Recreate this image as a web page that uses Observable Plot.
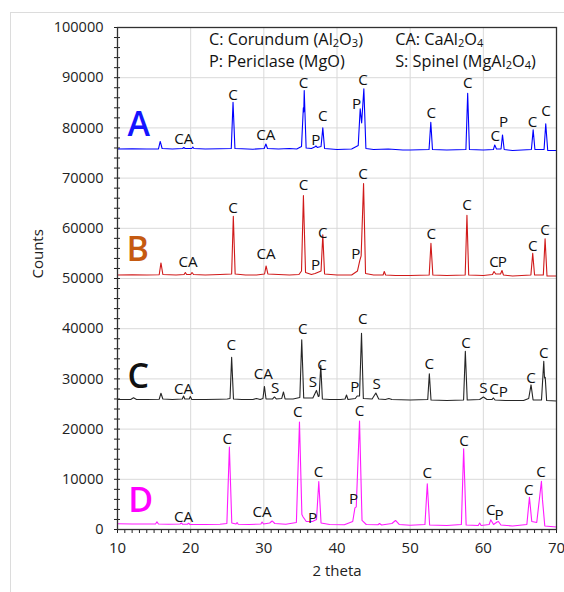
<!DOCTYPE html>
<html><head><meta charset="utf-8">
<script src="https://cdn.jsdelivr.net/npm/d3@7"></script>
<script src="https://cdn.jsdelivr.net/npm/@observablehq/plot@0.6"></script>
<style>
body{margin:0;background:#fff;}
#wrap{position:relative;width:564px;height:592px;overflow:hidden;}
#border{position:absolute;left:10px;top:12px;right:-2px;bottom:-2px;border-left:1px solid #dcdcdc;border-top:1px solid #dcdcdc;pointer-events:none;}
#wrap svg{position:absolute;left:0;top:0;}
</style></head><body><div id="wrap"><div id="border"></div></div>
<script>
// 2 theta / counts points
const traceA = [[10,75800],[12,75850],[14,75800],[15.6,75800],[15.84,77300],[16.1,75900],[17.5,75800],[18.9,75900],[19.06,76100],[19.25,75900],[20.15,75900],[20.29,76200],[20.45,75900],[22,75800],[24,75850],[25.55,75900],[25.79,85100],[26.05,75900],[27,75850],[28.5,75750],[30.05,75900],[30.28,76800],[30.5,75900],[32,75800],[33.5,75900],[34.5,75800],[35.15,76300],[35.4,84000],[35.46,83200],[35.52,87450],[35.78,76000],[36.5,75900],[36.95,76200],[37.12,76400],[37.3,76100],[37.82,76300],[38.06,80000],[38.3,75900],[40,75700],[42,75800],[42.9,76500],[43.17,83800],[43.37,81000],[43.67,87800],[43.95,75900],[45,75700],[47,75800],[49,75600],[50,75600],[52.58,75700],[52.82,81100],[53.05,75700],[55,75600],[57.62,75700],[57.86,86900],[58.1,75700],[60,75600],[61.38,75700],[61.56,76600],[61.8,75800],[62.42,75800],[62.62,78600],[62.85,75700],[64,75500],[66.57,75700],[66.81,79600],[67.05,75700],[68.3,75700],[68.53,80800],[68.8,75500],[70,75500]];
const traceB = [[10,50700],[12,50750],[14,50700],[15.7,50750],[15.94,53100],[16.2,50800],[18,50700],[19.1,50800],[19.27,51200],[19.45,50800],[20.0,50800],[20.18,51200],[20.4,50800],[22,50700],[24,50800],[25.6,50900],[25.83,62400],[26.08,50900],[27.5,50700],[29,50700],[30.1,50900],[30.31,52500],[30.55,50900],[32,50800],[33.5,50700],[34.8,50800],[35.15,51500],[35.41,66500],[35.7,51200],[36.5,50800],[37.0,51000],[37.5,51300],[37.82,51500],[38.06,58700],[38.3,50900],[40,50700],[42,50700],[42.8,51500],[43.12,53600],[43.3,54500],[43.63,68900],[43.9,51000],[45,50700],[46.3,50700],[46.46,51400],[46.65,50700],[48,50600],[50,50600],[52.6,50700],[52.84,57000],[53.1,50700],[55,50600],[57.52,50700],[57.76,62600],[58.0,50700],[60,50600],[61.25,50800],[61.46,51400],[61.7,50900],[62.35,50900],[62.55,51600],[62.75,50700],[64,50500],[66.5,50700],[66.75,55000],[67.0,50700],[68.2,50700],[68.44,57900],[68.7,50500],[70,50500]];
const traceC = [[10,25900],[11.8,25900],[12.19,26230],[12.6,25900],[14,25900],[15.7,25950],[15.94,27150],[16.2,26000],[17.5,25900],[18.85,26000],[19.03,26600],[19.2,26000],[19.8,26000],[19.95,26500],[20.15,25900],[22,25900],[24,25950],[25.0,26000],[25.38,26100],[25.6,34300],[25.85,26000],[27,25900],[28.5,25900],[29.0,26100],[29.5,25900],[29.88,26100],[30.08,28500],[30.3,26000],[31.2,26000],[31.45,26400],[31.7,26000],[32.45,26100],[32.68,27400],[32.9,26000],[34,26000],[34.92,26300],[35.18,37800],[35.45,26200],[36.7,26200],[37.19,27700],[37.45,26500],[37.56,26600],[37.78,32700],[38.0,26000],[39,25900],[40.5,25900],[41.1,26000],[41.3,26800],[41.5,25900],[42.5,26100],[42.76,26600],[43.08,26600],[43.35,39100],[43.6,26100],[44.8,26000],[45.31,27200],[45.7,26000],[46.6,25900],[47.09,26100],[47.5,25900],[50,25800],[52.4,25900],[52.62,31000],[52.85,25800],[55,25700],[57.3,25800],[57.54,35500],[57.8,25800],[59.5,25900],[60.01,26400],[60.5,25900],[61.2,25900],[61.38,26200],[61.6,25800],[63,25700],[65.5,25700],[66.2,26100],[66.52,28800],[66.8,25800],[67.95,25800],[68.26,33500],[68.36,30200],[68.46,30300],[68.65,25700],[70,25600]];
const traceD = [[10,1150],[12,1100],[14,1100],[15.2,1100],[15.39,1530],[15.6,1100],[17,1050],[18.55,1100],[18.72,1300],[18.9,1050],[19.55,1050],[19.72,1250],[19.9,1000],[22,1000],[24,1050],[24.95,1200],[25.29,16400],[25.62,1300],[26.2,1100],[26.34,1400],[26.5,1050],[28,1000],[29.6,1100],[29.76,1500],[29.95,1100],[30.8,1300],[31.13,1700],[31.5,1200],[33,1050],[34.45,1400],[34.87,21400],[35.2,3000],[35.37,2500],[35.8,1600],[36.65,1600],[37.2,2000],[37.51,9560],[37.82,1300],[39,1000],[41,950],[42.15,1600],[42.45,4300],[42.63,4500],[43.08,21600],[43.42,1800],[44,1000],[45.6,950],[45.81,1200],[46.1,900],[47.5,1200],[48.0,1800],[48.5,1000],[50,850],[52.02,1000],[52.34,9100],[52.66,900],[55,800],[57.0,1000],[57.31,16100],[57.65,900],[59.3,800],[59.5,1300],[59.7,800],[60.8,1000],[61.01,1930],[61.4,1000],[61.88,1500],[62.06,1600],[62.4,900],[64,700],[65.95,1000],[66.3,6430],[66.62,1600],[67.3,1400],[67.94,9620],[68.08,6000],[68.4,700],[70,500]];

// peak labels: [text, 2theta, counts]
const labelsA = [["CA",19.06,77700],["C",25.79,86600],["CA",30.28,78600],["C",35.44,89000],["P",37.12,77600],["C",38.06,82300],["P",42.67,84800],["C",43.57,89600],["C",52.88,83000],["C",57.86,89000],["C",61.64,78300],["P",62.77,81100],["C",66.71,81100],["C",68.57,83300]];
const labelsB = [["CA",19.63,53250],["C",25.79,64080],["CA",30.31,54900],["C",35.41,68700],["P",37.06,52700],["C",38.06,59100],["P",42.57,54800],["C",43.57,70850],["C",52.89,58900],["C",57.76,64700],["C",61.46,53250],["P",62.61,53250],["C",66.75,56400],["C",68.44,59600]];
const labelsC = [["CA",19.03,28000],["C",25.56,36800],["CA",29.93,30900],["S",31.55,28100],["C",35.32,40000],["S",36.69,29300],["C",37.97,32700],["P",42.43,28300],["C",43.53,42000],["S",45.41,28900],["C",52.62,33000],["C",57.63,37100],["S",60.01,28200],["C",61.46,28000],["P",62.74,27400],["C",66.52,30100],["C",68.26,35100]];
const labelsD = [["CA",19.03,2450],["C",25.01,18070],["CA",29.76,3450],["C",34.63,23370],["P",36.65,2330],["C",37.47,11400],["P",42.26,6100],["C",43.08,23500],["C",52.34,11200],["C",57.35,17700],["C",61.01,3800],["P",62.14,2800],["C",66.21,7900],["C",67.89,11400]];

// sample letters: [text, 2theta, counts]
const sampleNames = [["A",12.9,80480],["B",12.76,55680],["C",12.83,30380],["D",13.18,5680]];
const sampleColors = ["#1414ff","#c55a11","#111111","#ff00ff"];
const lineColors = ["#0000ff","#d01a1a","#262626","#ff1aff"];

// legend: [text, 2theta, counts]
const legendLines = [["C: Corundum (Al\u2082O\u2083)",22.49,97500],["P: Periclase (MgO)",22.49,93200],["CA: CaAl\u2082O\u2084",47.95,97500],["S: Spinel (MgAl\u2082O\u2084)",47.95,93200]];

const xTicksMajor = [10,20,30,40,50,60,70];
const yTicksMajor = [0,10000,20000,30000,40000,50000,60000,70000,80000,90000,100000];

const traces = [traceA, traceB, traceC, traceD];
const labelSets = [labelsA, labelsB, labelsC, labelsD];

const marks = [
  Plot.gridX(xTicksMajor, {stroke:"#d9d9d9", strokeOpacity:1}),
  Plot.gridY(yTicksMajor, {stroke:"#d9d9d9", strokeOpacity:1}),
  Plot.axisX(d3.range(10,71,1), {tickSize:4, tickFormat:()=>"", label:null}),
  Plot.axisX(xTicksMajor, {tickSize:0, tickPadding:13, label:null, tickFormat:"d", fontSize:15}),
  Plot.axisY(d3.range(0,100001,2000), {tickSize:6, dx:3, tickFormat:()=>"", label:null}),
  Plot.axisY(yTicksMajor, {tickSize:0, tickPadding:14, label:null, tickFormat:"d", fontSize:14.5}),
];
traces.forEach((t,i) => {
  marks.push(Plot.line(t, {x:d=>d[0], y:d=>d[1], stroke:lineColors[i], strokeWidth:1.1}));
});
marks.push(Plot.frame({stroke:"#303030", strokeWidth:1.3}));
labelSets.forEach(ls => {
  marks.push(Plot.text(ls, {x:d=>d[1], y:d=>d[2], text:d=>d[0], fontSize:15.2, fill:"#111"}));
});
marks.push(Plot.text(sampleNames, {x:d=>d[1], y:d=>d[2], text:d=>d[0], fontSize:34, fontWeight:600, fill:(d,i)=>sampleColors[i]}));
marks.push(Plot.text(legendLines, {x:d=>d[1], y:d=>d[2], text:d=>d[0], fontSize:16.3, textAnchor:"start", fill:"#111"}));
marks.push(Plot.text(["2 theta"], {frameAnchor:"bottom", dy:46, fontSize:15, fill:"#222"}));
marks.push(Plot.text(["Counts"], {frameAnchor:"left", dx:-79, rotate:-90, fontSize:15, fill:"#222"}));

const chart = Plot.plot({
  width:564, height:592,
  marginLeft:117, marginRight:8, marginTop:27, marginBottom:63,
  style:{fontFamily:"'Open Sans', sans-serif", fontSize:"14px", color:"#222", background:"transparent", overflow:"visible"},
  x:{domain:[10,70]},
  y:{domain:[0,100000]},
  marks
});
document.getElementById("wrap").appendChild(chart);

// render unicode subscript digits as smaller, lowered tspans
const subMap = {"\u2082":"2","\u2083":"3","\u2084":"4"};
d3.select(chart).selectAll("text").each(function() {
  const el = this;
  if (el.children.length) return;
  const s = el.textContent;
  if (!/[\u2082-\u2084]/.test(s)) return;
  el.textContent = "";
  const parts = s.split(/([\u2082-\u2084])/).filter(p => p.length);
  for (const p of parts) {
    const ts = document.createElementNS("http://www.w3.org/2000/svg", "tspan");
    if (subMap[p]) {
      ts.textContent = subMap[p];
      ts.setAttribute("font-size", "0.68em");
      ts.setAttribute("baseline-shift", "-0.18em");
    } else {
      ts.textContent = p;
    }
    el.appendChild(ts);
  }
});
</script>
</body></html>
